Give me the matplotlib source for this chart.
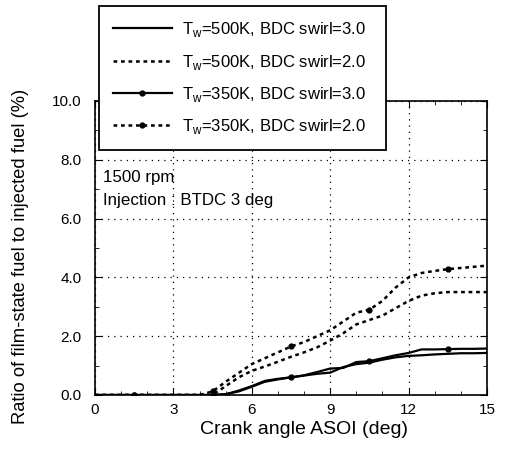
import matplotlib.pyplot as plt
from matplotlib.ticker import MultipleLocator, FormatStrFormatter

plt.rcParams['font.family'] = ['Liberation Sans', 'DejaVu Sans']
plt.rcParams['mathtext.fontset'] = 'custom'
plt.rcParams['mathtext.rm'] = 'Liberation Sans'

crank = [0, 1.5, 3, 4, 4.5, 5, 5.5, 6, 6.5, 7, 7.5, 8, 8.5, 9, 9.5,
         10, 10.5, 11, 11.5, 12, 12.5, 13, 13.5, 14, 14.5, 15]
tw500_s30 = [0, 0, 0, 0, 0, 0.03, 0.12, 0.28, 0.45, 0.53, 0.6, 0.66, 0.72, 0.76, 0.95,
             1.05, 1.1, 1.2, 1.28, 1.33, 1.35, 1.38, 1.4, 1.42, 1.42, 1.43]
tw500_s20 = [0, 0, 0, 0, 0, 0.3, 0.6, 0.82, 0.97, 1.13, 1.3, 1.45, 1.62, 1.85, 2.1,
             2.4, 2.55, 2.7, 2.95, 3.2, 3.38, 3.46, 3.5, 3.5, 3.5, 3.5]
tw350_s30 = [0, 0, 0, 0, 0, 0.02, 0.15, 0.3, 0.48, 0.55, 0.6, 0.67, 0.78, 0.9, 0.92,
             1.12, 1.15, 1.25, 1.35, 1.43, 1.55, 1.55, 1.56, 1.57, 1.57, 1.58]
tw350_s20 = [0, 0, 0, 0, 0.12, 0.45, 0.75, 1.05, 1.25, 1.45, 1.65, 1.8, 2.0, 2.2, 2.5,
             2.8, 2.9, 3.2, 3.65, 4.0, 4.15, 4.22, 4.28, 4.32, 4.36, 4.4]
marks = [1, 4, 10, 16, 22]

labels = [r'T$_\mathregular{w}$=500K, BDC swirl=3.0',
          r'T$_\mathregular{w}$=500K, BDC swirl=2.0',
          r'T$_\mathregular{w}$=350K, BDC swirl=3.0',
          r'T$_\mathregular{w}$=350K, BDC swirl=2.0']

fig = plt.figure(figsize=(5.06, 4.49), dpi=100)
ax = fig.add_axes([0.1877, 0.1203, 0.7747, 0.6548])

dots = (1.5, 1.5)
ax.plot(crank, tw500_s30, color='black', lw=1.6, label=labels[0])
ax.plot(crank, tw500_s20, color='black', lw=1.8, ls=(0, dots), label=labels[1])
ax.plot(crank, tw350_s30, color='black', lw=1.6, label=labels[2],
        marker='o', markersize=3.5, markevery=marks)
ax.plot(crank, tw350_s20, color='black', lw=1.8, ls=(0, dots), label=labels[3],
        marker='o', markersize=3.5, markevery=marks)

ax.set_xlim(0, 15)
ax.set_ylim(0, 10)
ax.xaxis.set_major_locator(MultipleLocator(3))
ax.xaxis.set_minor_locator(MultipleLocator(1))
ax.yaxis.set_major_locator(MultipleLocator(2))
ax.yaxis.set_minor_locator(MultipleLocator(1))
ax.yaxis.set_major_formatter(FormatStrFormatter('%.1f'))
ax.tick_params(which='both', direction='in', top=True, right=True, labelsize=11)
ax.tick_params(which='major', length=5)
ax.tick_params(which='minor', length=3)
ax.tick_params(axis='y', pad=9.5)
ax.tick_params(axis='x', pad=5.5)
ax.grid(True, which='major', color='black', ls=(0, (1, 4)), lw=0.9)
for s in ax.spines.values():
    s.set_linewidth(1.2)

ax.set_xlabel('Crank angle ASOI (deg)', fontsize=14)
ax.set_ylabel('Ratio of film-state fuel to injected fuel (%)', fontsize=13.2)
ax.xaxis.set_label_coords(0.533, -0.088)
ax.yaxis.set_label_coords(-0.168, 0.472)

ax.text(0.3, 7.39, '1500 rpm', fontsize=12.2, va='center')
ax.text(0.3, 6.6, 'Injection : BTDC 3 deg', fontsize=12.2, va='center')

leg = fig.legend(loc='upper left', bbox_to_anchor=(99 / 506, 1 - 6 / 449, 287 / 506, 0),
                 mode='expand', borderaxespad=0, fontsize=12,
                 fancybox=False, edgecolor='black', framealpha=1,
                 handlelength=3.5, handletextpad=0.6, labelspacing=0.8, borderpad=0.85)
leg.get_frame().set_linewidth(1.3)

fig.savefig('out.png', dpi=100)
